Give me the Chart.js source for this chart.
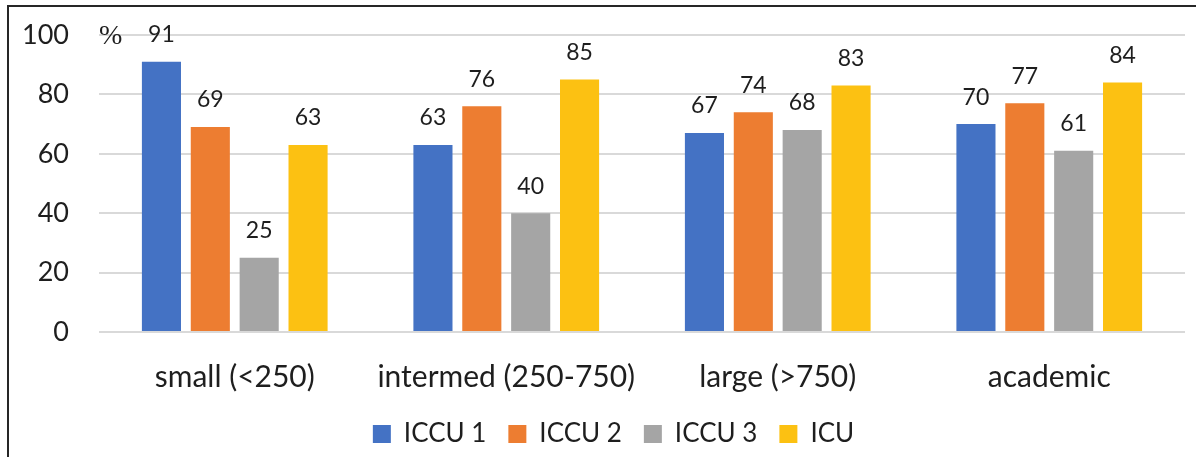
<!DOCTYPE html>
<html lang="en">
<head>
    <meta charset="UTF-8">
    <title>ICU survey chart</title>
    <script src="https://cdn.jsdelivr.net/npm/chart.js"></script>
    <style>
        html, body { margin: 0; padding: 0; background: #fff; overflow: hidden; }
        #frame {
            position: absolute; left: 7px; top: 5px;
            width: 1200px; height: 470px;
            border-left: 2px solid #262626; border-top: 2px solid #262626;
        }
        #wrap { position: absolute; left: 0; top: 0; width: 1196px; height: 457px; }
    </style>
</head>
<body>
    <div id="frame"></div>
    <div id="wrap"><canvas id="myChart"></canvas></div>

    <script>
        // data
        const categories = ['small (<250)', 'intermed (250-750)', 'large (>750)', 'academic'];
        const iccu1 = [91, 63, 67, 70];
        const iccu2 = [69, 76, 74, 77];
        const iccu3 = [25, 40, 68, 61];
        const icu   = [63, 85, 83, 84];
        const yTicks = [0, 20, 40, 60, 80, 100];

        const FONT = 'Lato, "Open Sans", sans-serif';
        const TXT = '#1e1e1e';

        // value labels above each bar + the "%" sign next to the top tick
        const barLabels = {
            id: 'barLabels',
            afterLayout(chart) {
                // legend sits a bit right of centre in the original
                chart.legend.left += 42;
            },
            afterDatasetsDraw(chart) {
                const ctx = chart.ctx;
                ctx.save();
                ctx.fillStyle = TXT;
                ctx.font = '23px ' + FONT;
                ctx.textAlign = 'center';
                ctx.textBaseline = 'middle';
                chart.data.datasets.forEach((ds, i) => {
                    chart.getDatasetMeta(i).data.forEach((bar, j) => {
                        ctx.fillText(ds.data[j], bar.x, bar.y - 27);
                    });
                });
                ctx.font = '28px "Liberation Serif", serif';
                ctx.textAlign = 'left';
                ctx.fillText('%', chart.chartArea.left, chart.chartArea.top + 2);
                ctx.restore();
            }
        };

        const ctx = document.getElementById('myChart').getContext('2d');
        const myChart = new Chart(ctx, {
            type: 'bar',
            data: {
                labels: categories,
                datasets: [
                    { label: 'ICCU 1', data: iccu1, backgroundColor: '#4472C4' },
                    { label: 'ICCU 2', data: iccu2, backgroundColor: '#ED7D31' },
                    { label: 'ICCU 3', data: iccu3, backgroundColor: '#A5A5A5' },
                    { label: 'ICU',    data: icu,   backgroundColor: '#FCC112' }
                ]
            },
            options: {
                responsive: true,
                maintainAspectRatio: false,
                animation: false,
                datasets: {
                    bar: { categoryPercentage: 0.72, barPercentage: 0.8 }
                },
                layout: { padding: { top: 35, right: 11, left: 0, bottom: 0 } },
                plugins: {
                    tooltip: { enabled: false },
                    legend: {
                        position: 'bottom',
                        labels: {
                            boxWidth: 18, boxHeight: 18, padding: 22,
                            color: TXT, font: { family: FONT, size: 26 }
                        }
                    }
                },
                scales: {
                    x: {
                        grid: { display: false },
                        border: { display: false },
                        ticks: { color: TXT, padding: 19, font: { family: FONT, size: 30 } },
                        afterFit(scale) { scale.height = 67; }
                    },
                    y: {
                        min: 0, max: 100,
                        afterBuildTicks(scale) { scale.ticks = yTicks.map(v => ({ value: v })); },
                        grid: { color: '#d9d9d9', lineWidth: 2, drawTicks: false },
                        border: { display: false },
                        ticks: { color: TXT, padding: 30, font: { family: FONT, size: 27 } },
                        afterFit(scale) {
                            scale.width = 99;
                            scale.paddingTop = 0;
                            scale.paddingBottom = 0;
                        }
                    }
                }
            },
            plugins: [barLabels]
        });
    </script>
</body>
</html>
